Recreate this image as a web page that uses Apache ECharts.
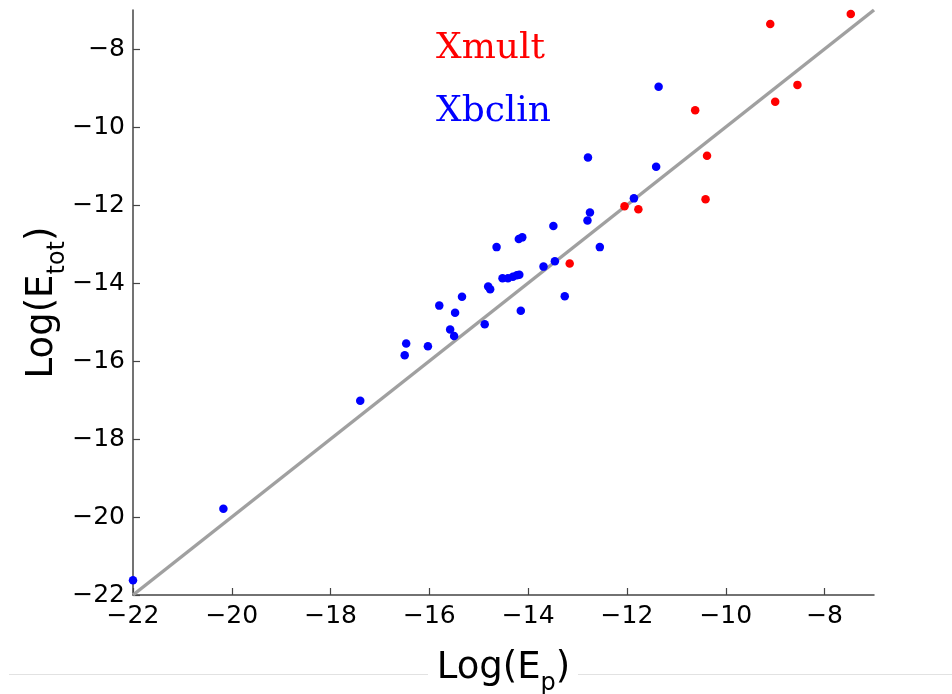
<!DOCTYPE html>
<html>
<head>
<meta charset="utf-8">
<script src="https://cdn.jsdelivr.net/npm/echarts@6/dist/echarts.min.js"></script>
<style>
html,body{margin:0;padding:0;background:#fff;}
#chart{width:952px;height:694px;}
</style>
</head>
<body>
<div id="chart"></div>
<script>
// Tick values shared by both axes
const tickValues = [-22, -20, -18, -16, -14, -12, -10, -8];
const axisMin = -22, axisMax = -7;

// Xmult series (red): Log(E_p), Log(E_tot)
const xmultLogEp   = [-7.47, -9.10, -8.55, -9.00, -10.62, -10.38, -10.41, -12.05, -11.77, -13.16];
const xmultLogEtot = [-7.10, -7.36, -8.92, -9.35, -9.57, -10.74, -11.85, -12.03, -12.11, -13.50];

// Xbclin series (blue)
const xbclinLogEp = [-11.36, -12.79, -11.41, -11.86, -12.75, -12.80, -13.49, -14.12, -14.19, -14.64,
  -12.55, -13.46, -13.69, -14.52, -14.41, -14.31, -14.23, -14.18, -14.81, -14.77,
  -13.26, -14.15, -14.88, -15.80, -15.34, -15.48, -15.58, -15.50, -16.47, -16.03,
  -16.50, -17.40, -20.17, -22.00];
const xbclinLogEtot = [-8.97, -10.78, -11.02, -11.83, -12.19, -12.40, -12.54, -12.83, -12.87, -13.08,
  -13.08, -13.44, -13.58, -13.88, -13.88, -13.84, -13.80, -13.79, -14.09, -14.16,
  -14.34, -14.71, -15.06, -14.58, -14.35, -14.76, -15.19, -15.36, -15.55, -15.62,
  -15.85, -17.02, -19.79, -21.62];

// identity line y = x end points
const identityLine = [[axisMin, axisMin], [axisMax, axisMax]];

const zip = (a, b) => a.map((v, i) => [v, b[i]]);
const fmt = v => (v < 0 ? '\u2212' + Math.abs(v) : String(v));

const axisCommon = {
  type: 'value', min: axisMin, max: axisMax,
  splitLine: {show: false},
  axisLine: {show: true, onZero: false, lineStyle: {color: '#444', width: 1.5}},
  axisTick: {show: true, inside: true, length: 7, customValues: tickValues, lineStyle: {color: '#444', width: 1.2}},
  axisLabel: {customValues: tickValues, formatter: fmt, color: '#000', fontFamily: 'DejaVu Sans', fontSize: 25},
  nameLocation: 'middle',
  nameMoveOverlap: false,
  nameTextStyle: {
    color: '#000', fontFamily: 'DejaVu Sans',
    rich: {
      a: {fontSize: 37, lineHeight: 46, verticalAlign: 'top', fontFamily: 'DejaVu Sans', color: '#000'},
      b: {fontSize: 24, lineHeight: 24, verticalAlign: 'bottom', fontFamily: 'DejaVu Sans', color: '#000'}
    }
  }
};

const chart = echarts.init(document.getElementById('chart'), null, {renderer: 'canvas'});
chart.setOption({
  backgroundColor: '#fff',
  animation: false,
  grid: {left: 133, right: 78, top: 10, bottom: 99, containLabel: false, outerBoundsMode: 'none'},
  legend: {
    orient: 'vertical', left: 426, top: 26, itemGap: 27, itemWidth: 0, itemHeight: 10,
    icon: 'none', selectedMode: false,
    textStyle: {fontFamily: 'DejaVu Serif', fontSize: 36, lineHeight: 36},
    data: [
      {name: 'Xmult', icon: 'none', textStyle: {color: '#ff0000'}},
      {name: 'Xbclin', icon: 'none', textStyle: {color: '#0000ff'}}
    ]
  },
  xAxis: Object.assign({}, axisCommon, {
    name: '{a|Log(E}{b|p}{a|)}', nameGap: 55,
    axisLabel: Object.assign({}, axisCommon.axisLabel, {margin: 9})
  }),
  yAxis: Object.assign({}, axisCommon, {
    name: '{a|Log(E}{b|tot}{a|)}', nameGap: 63, nameRotate: 90,
    axisLabel: Object.assign({}, axisCommon.axisLabel, {margin: 8})
  }),
  graphic: [
    {type: 'line', shape: {x1: 9, y1: 674.5, x2: 428, y2: 674.5}, style: {stroke: '#e2e2e2', lineWidth: 1}, silent: true},
    {type: 'line', shape: {x1: 578, y1: 674.5, x2: 952, y2: 674.5}, style: {stroke: '#e2e2e2', lineWidth: 1}, silent: true}
  ],
  series: [
    {
      name: 'identity', type: 'line', data: identityLine, symbol: 'none', z: 1,
      lineStyle: {color: '#a0a0a0', width: 3.5}, clip: false, silent: true
    },
    {
      name: 'Xmult', type: 'scatter', data: zip(xmultLogEp, xmultLogEtot), z: 3,
      symbol: 'circle', symbolSize: 8.5, itemStyle: {color: '#ff0000', opacity: 1}
    },
    {
      name: 'Xbclin', type: 'scatter', data: zip(xbclinLogEp, xbclinLogEtot), z: 3,
      symbol: 'circle', symbolSize: 8.5, itemStyle: {color: '#0000ff', opacity: 1}
    }
  ]
});
</script>
</body>
</html>
